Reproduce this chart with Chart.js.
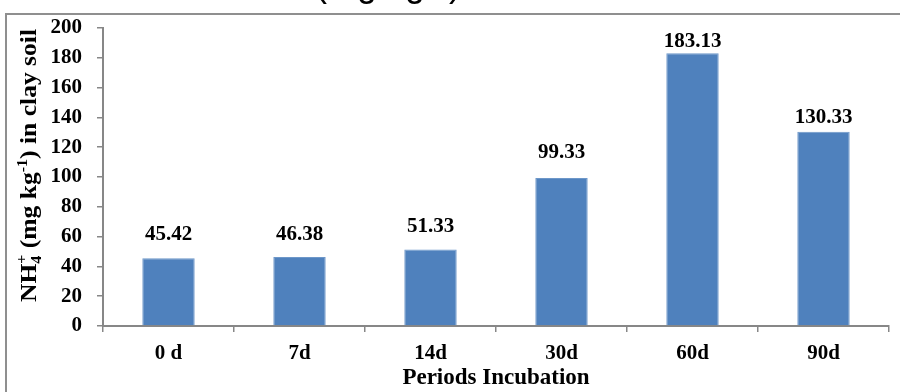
<!DOCTYPE html>
<html>
<head>
<meta charset="utf-8">
<script src="https://cdn.jsdelivr.net/npm/chart.js@4"></script>
<style>
  html, body { margin: 0; padding: 0; background: #ffffff; }
  #wrap { width: 900px; height: 392px; position: relative; }
</style>
</head>
<body>
<div id="wrap"><canvas id="c" width="900" height="392"></canvas></div>
<script>
// Incubation periods and ammonium content (mg kg-1) in clay soil
const periods = ['0 d', '7d', '14d', '30d', '60d', '90d'];
const nh4Values = [45.42, 46.38, 51.33, 99.33, 183.13, 130.33];
const yAxisMax = 200;
const yAxisStep = 20;
// gap in px between each bar top and its value label baseline
const labelLift = [18, 17, 18, 20, 6, 9];

const SERIF = "'Times New Roman', 'Liberation Serif', serif";
const SANS = "Arial, 'Liberation Sans', sans-serif";
const AXIS_GRAY = '#878787';
const BAR_BLUE = '#4f81bd';

// outer frame and the clipped heading above it
const framePlugin = {
  id: 'frame',
  beforeDraw(chart) {
    const ctx = chart.ctx;
    ctx.save();
    ctx.fillStyle = '#ffffff';
    ctx.fillRect(0, 0, chart.width, chart.height);
    ctx.strokeStyle = '#8f8f8f';
    ctx.lineWidth = 2;
    ctx.strokeRect(6, 14, 1200, 1200);
    ctx.fillStyle = '#000000';
    ctx.font = '36px ' + SANS;
    ctx.textAlign = 'center';
    ctx.textBaseline = 'alphabetic';
    ctx.fillText('(mg kg\u207B\u00B9)', 388, -4);
    ctx.restore();
  }
};

// rotated y-axis title with sub/superscripts
const yTitlePlugin = {
  id: 'yTitle',
  afterDraw(chart) {
    const ctx = chart.ctx;
    const big = 'bold 24px ' + SERIF;
    const small = 'bold 15px ' + SERIF;
    const parts = [
      { t: 'NH', f: big, dy: 0 },
      { stack: [{ t: '4', f: small, dy: 5 }, { t: '+', f: small, dy: -10 }] },
      { t: ' (mg kg', f: big, dy: 0 },
      { t: '-1', f: small, dy: -9 },
      { t: ') in clay soil', f: big, dy: 0 }
    ];
    ctx.save();
    ctx.fillStyle = '#000000';
    ctx.textBaseline = 'alphabetic';
    ctx.textAlign = 'left';
    let total = 0;
    const widths = parts.map(p => {
      let w;
      if (p.stack) {
        w = Math.max(...p.stack.map(s => { ctx.font = s.f; return ctx.measureText(s.t).width; }));
      } else { ctx.font = p.f; w = ctx.measureText(p.t).width; }
      total += w;
      return w;
    });
    const startY = 302, endY = 29;
    const sx = (startY - endY) / total;
    ctx.translate(35.5, startY);
    ctx.rotate(-Math.PI / 2);
    ctx.scale(sx, 1);
    let x = 0;
    parts.forEach((p, i) => {
      const items = p.stack ? p.stack : [p];
      items.forEach(s => { ctx.font = s.f; ctx.fillText(s.t, x, s.dy); });
      x += widths[i];
    });
    ctx.restore();
  }
};

// value labels above the bars
const valueLabelPlugin = {
  id: 'valueLabels',
  afterDatasetsDraw(chart) {
    const ctx = chart.ctx;
    const meta = chart.getDatasetMeta(0);
    ctx.save();
    ctx.fillStyle = '#000000';
    ctx.font = 'bold 21px ' + SERIF;
    ctx.textAlign = 'center';
    ctx.textBaseline = 'alphabetic';
    meta.data.forEach((bar, i) => {
      ctx.fillText(nh4Values[i].toFixed(2), bar.x, bar.y - labelLift[i]);
    });
    ctx.restore();
  }
};

new Chart(document.getElementById('c'), {
  type: 'bar',
  data: {
    labels: periods,
    datasets: [{
      data: nh4Values,
      backgroundColor: BAR_BLUE,
      borderColor: '#6d97c9',
      borderWidth: 1,
      barPercentage: 0.4,
      categoryPercentage: 1.0
    }]
  },
  options: {
    responsive: false,
    devicePixelRatio: 1,
    animation: false,
    layout: { padding: { left: 0, right: 11, top: 28, bottom: 0 } },
    plugins: {
      legend: { display: false },
      tooltip: { enabled: false },
      title: { display: false }
    },
    scales: {
      x: {
        offset: true,
        grid: {
          offset: true,
          drawOnChartArea: false,
          drawTicks: true,
          tickLength: 6,
          color: AXIS_GRAY,
          lineWidth: 1.5
        },
        border: { display: true, color: AXIS_GRAY, width: 2 },
        ticks: {
          color: '#000000',
          font: { family: SERIF, size: 21, weight: 'bold' },
          padding: 9,
          maxRotation: 0
        },
        title: {
          display: true,
          text: 'Periods Incubation',
          color: '#000000',
          font: { family: SERIF, size: 23, weight: 'bold', lineHeight: 1.1 },
          padding: { top: 0, bottom: 1 }
        },
        afterFit(scale) { scale.height = 66; }
      },
      y: {
        min: 0,
        max: yAxisMax,
        grid: {
          drawOnChartArea: false,
          drawTicks: true,
          tickLength: 6,
          color: AXIS_GRAY,
          lineWidth: 1.5
        },
        border: { display: true, color: AXIS_GRAY, width: 2 },
        ticks: {
          stepSize: yAxisStep,
          color: '#000000',
          font: { family: SERIF, size: 21, weight: 'bold' },
          padding: 15
        },
        afterFit(scale) { scale.width = 103; }
      }
    }
  },
  plugins: [framePlugin, yTitlePlugin, valueLabelPlugin]
});
</script>
</body>
</html>
